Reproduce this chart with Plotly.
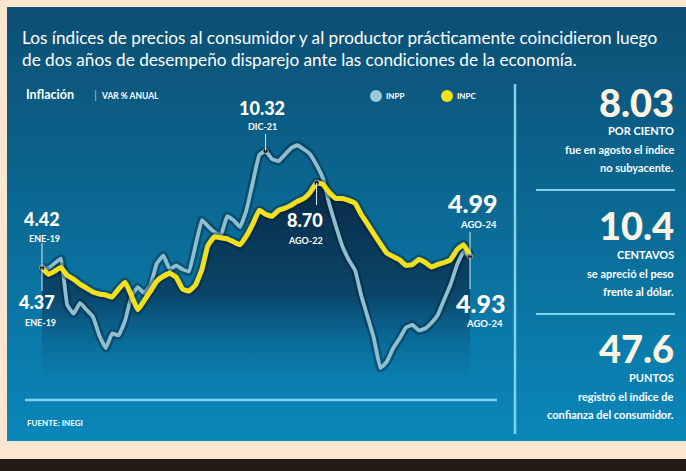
import plotly.graph_objects as go
import pandas as pd

W, H = 686, 471

# ---------------- data ----------------
months = pd.date_range("2019-01-01", periods=68, freq="MS")

inpc = [4.37, 4.05, 4.2, 4.4, 4.0, 3.8, 3.55, 3.35, 3.15, 3.05,
        3.0, 2.9, 3.3, 3.65, 3.0, 2.25, 2.7, 3.2, 3.7, 3.95,
        4.1, 3.9, 3.3, 3.2, 3.5, 4.3, 5.5, 5.95, 5.9, 5.85,
        5.7, 5.55, 6.0, 6.6, 7.3, 7.1, 7.0, 7.3, 7.4, 7.55,
        7.75, 7.9, 8.2, 8.70, 8.6, 8.2, 7.9, 7.9, 7.8, 7.65,
        7.1, 6.6, 6.1, 5.6, 5.13, 4.95, 4.78, 4.5, 4.55, 4.8,
        4.65, 4.42, 4.55, 4.65, 4.8, 5.3, 5.55, 4.99]

inpp = [4.42, 4.35, 4.6, 4.85, 2.5, 2.05, 2.6, 2.25, 1.9, 0.95,
        0.3, 1.05, 0.95, 1.7, 2.9, 3.4, 3.1, 3.5, 4.6, 5.0,
        4.3, 4.5, 4.3, 4.2, 5.5, 6.8, 6.5, 6.2, 6.0, 7.0,
        6.8, 6.45, 7.3, 8.7, 10.1, 10.32, 9.9, 9.8, 10.1, 10.45,
        10.6, 10.4, 10.15, 9.6, 8.9, 7.6, 6.5, 5.5, 4.8, 4.25,
        3.0, 1.9, 0.8, -0.7, -0.4, 0.3, 0.8, 1.35, 1.48, 1.2,
        1.3, 1.6, 2.0, 2.8, 3.55, 4.55, 5.2, 4.93]

series_names = ["INPP", "INPC"]

title_text = ("Los índices de precios al consumidor y al productor prácticamente coincidieron luego<br>"
              "de dos años de desempeño disparejo ante las condiciones de la economía.")

# highlighted points: (series, month index, value label, date label)
highlights = [
    ("INPP", 0, "4.42", "ENE-19"),
    ("INPC", 0, "4.37", "ENE-19"),
    ("INPP", 35, "10.32", "DIC-21"),
    ("INPC", 43, "8.70", "AGO-22"),
    ("INPC", 67, "4.99", "AGO-24"),
    ("INPP", 67, "4.93", "AGO-24"),
]

side_numbers = ["8.03", "10.4", "47.6"]
side_units = ["POR CIENTO", "CENTAVOS", "PUNTOS"]
side_texts = [["fue en agosto el índice", "no subyacente."],
              ["se apreció el peso", "frente al dólar."],
              ["registró el índice de", "confianza del consumidor."]]

# ---------------- styling / layout helpers ----------------
FONT = "Lato"
PEACH = "#fde6d0"
YELLOW = "#f3e01c"
LBLUE = "#8fbfce"
CREAM = "#fdf4e4"
LINEC = "#7fd3ea"

X0PX, X1PX = 42, 470          # pixel positions of first / last month
YREF_V, YREF_PX, PPU = 4.37, 268, 19.7   # y mapping


def px(x):
    return x / W


def py(y):
    return 1 - y / H


def v2py(v):
    return YREF_PX - (v - YREF_V) * PPU


span_days = (months[-1] - months[0]).days
ppd = (X1PX - X0PX) / span_days
xr0 = months[0] - pd.Timedelta(days=X0PX / ppd)
xr1 = months[-1] + pd.Timedelta(days=(W - X1PX) / ppd)
yr0 = YREF_V - (H - YREF_PX) / PPU
yr1 = YREF_V + YREF_PX / PPU


def mix(c1, c2, t):
    a = [int(c1[i:i + 2], 16) for i in (1, 3, 5)]
    b = [int(c2[i:i + 2], 16) for i in (1, 3, 5)]
    return "rgb(%d,%d,%d)" % tuple(round(a[k] + (b[k] - a[k]) * t) for k in range(3))


shapes = []
# gradient panel background
PTOP, PBOT, PLEFT = 7, 441, 7
nb = 60
for k in range(nb):
    y0 = PTOP + (PBOT - PTOP) * k / nb
    y1 = min(PBOT, PTOP + (PBOT - PTOP) * (k + 1) / nb + 2)
    shapes.append(dict(type="rect", xref="paper", yref="paper", layer="below",
                       x0=px(PLEFT), x1=1.0, y0=py(y1), y1=py(y0),
                       fillcolor=mix("#0c4f73", "#0a87b9", k / (nb - 1)), line_width=0))
# bottom dark bar
shapes.append(dict(type="rect", xref="paper", yref="paper", layer="below",
                   x0=0, x1=1, y0=0, y1=py(459), fillcolor="#241a15", line_width=0))

# separators
shapes.append(dict(type="line", xref="paper", yref="paper", x0=px(25), x1=px(497),
                   y0=py(400), y1=py(400), line=dict(color=LINEC, width=2.5)))
shapes.append(dict(type="line", xref="paper", yref="paper", x0=px(515), x1=px(515),
                   y0=py(84), y1=py(434), line=dict(color=LINEC, width=2.5)))
for yy in (190, 314):
    shapes.append(dict(type="line", xref="paper", yref="paper", x0=px(536), x1=px(675),
                       y0=py(yy), y1=py(yy), line=dict(color=LINEC, width=2)))

# legend circles
for cx, col in ((376, "#9ccad7"), (447, YELLOW)):
    r = 6
    shapes.append(dict(type="circle", xref="paper", yref="paper", x0=px(cx - r), x1=px(cx + r),
                       y0=py(96 + r), y1=py(96 - r), fillcolor=col, line_width=0))

# ---------------- traces ----------------
fig = go.Figure()

base = [yr0 + (H - 388) / PPU] * len(months)
fig.add_trace(go.Scatter(x=months, y=base, mode="lines", line=dict(width=0),
                         hoverinfo="skip", showlegend=False))
fig.add_trace(go.Scatter(x=months, y=inpc, mode="lines", line=dict(width=0), fill="tonexty",
                         fillgradient=dict(type="vertical", start=base[0], stop=8.7,
                                           colorscale=[[0, "rgba(11,110,160,0)"],
                                                       [0.45, "rgba(10,62,96,0.85)"],
                                                       [1, "rgba(8,42,70,1)"]]),
                         hoverinfo="skip", showlegend=False))

for vals, col, w in ((inpp, LBLUE, 3.8), (inpc, YELLOW, 5)):
    fig.add_trace(go.Scatter(x=months, y=vals, mode="lines",
                             line=dict(color="rgba(3,25,45,0.35)", width=w + 5, shape="spline",
                                       smoothing=0.3),
                             hoverinfo="skip", showlegend=False))
    fig.add_trace(go.Scatter(x=months, y=vals, mode="lines",
                             line=dict(color=col, width=w, shape="spline", smoothing=0.3),
                             showlegend=False))

series = {"INPP": inpp, "INPC": inpc}
fig.add_trace(go.Scatter(x=[months[i] for s, i, _, _ in highlights],
                         y=[series[s][i] for s, i, _, _ in highlights],
                         mode="markers",
                         marker=dict(color="#151515", size=5, line=dict(color="#d9d9d9", width=0.5)),
                         showlegend=False, hoverinfo="skip"))

# ---------------- annotations ----------------
ann = []


def text(x, y, s, size, color="white", xanchor="left", weight=400):
    ann.append(dict(xref="paper", yref="paper", x=px(x), y=py(y), text=s,
                    showarrow=False, xanchor=xanchor, yanchor="middle",
                    font=dict(family=FONT, size=size, color=color, weight=weight)))


ann.append(dict(xref="paper", yref="paper", x=px(20), y=py(49), text=title_text, showarrow=False,
                xanchor="left", yanchor="middle", align="left",
                font=dict(family=FONT, size=17.2, color="white")))
text(24, 95, "Inflación", 12.5, weight=700)
text(92, 95, "|", 12, color="#8fc3d6")
text(99, 96, "VAR % ANUAL", 8.5, weight=700)
text(384, 96, series_names[0], 8, weight=700)
text(455, 96, series_names[1], 8, weight=700)
text(25, 423, "FUENTE: INEGI", 8, weight=700)

# label positions (value label centre, date label centre, leader end y)
label_pos = [
    ((42, 219), (44, 238), 243),
    ((37, 302), (40, 322), 291),
    ((262, 108), (262, 127), 134),
    ((305, 220), (305, 240), 205),
    ((473, 203), (478, 224), 232),
    ((480, 303), (484, 323), 289),
]
big = {"4.99", "4.93"}
for (s, i, val, dl), ((vx, vy), (dx, dy), ly) in zip(highlights, label_pos):
    text(vx, vy, val, 25 if val in big else 18, xanchor="center", weight=900)
    text(dx, dy, dl, 9.5 if val in big else 9, xanchor="center", weight=700)
    xpx = X0PX + (months[i] - months[0]).days * ppd
    shapes.append(dict(type="line", xref="paper", yref="paper", x0=px(xpx), x1=px(xpx),
                       y0=py(v2py(series[s][i])), y1=py(ly),
                       line=dict(color="#d6eef6", width=1)))

for k, (num, unit, lines) in enumerate(zip(side_numbers, side_units, side_texts)):
    y0 = 102 + 123 * k
    text(676, y0, num, 38, color=CREAM, xanchor="right", weight=900)
    text(676, y0 + 29, unit, 11, xanchor="right", weight=700)
    text(676, y0 + 48, lines[0], 11, xanchor="right", weight=700)
    text(676, y0 + 66, lines[1], 11, xanchor="right", weight=700)

axis_common = dict(domain=[0, 1], visible=False, showgrid=False, zeroline=False, fixedrange=True)
fig.update_layout(
    width=W, height=H, margin=dict(l=0, r=0, t=0, b=0),
    paper_bgcolor=PEACH, plot_bgcolor="rgba(0,0,0,0)",
    shapes=shapes, annotations=ann, showlegend=False,
    xaxis=dict(range=[xr0, xr1], **axis_common),
    yaxis=dict(range=[yr0, yr1], **axis_common),
)

fig.write_html("out.html", config={"displayModeBar": False},
               post_script="document.body.style.margin='0';document.body.style.overflow='hidden';")
